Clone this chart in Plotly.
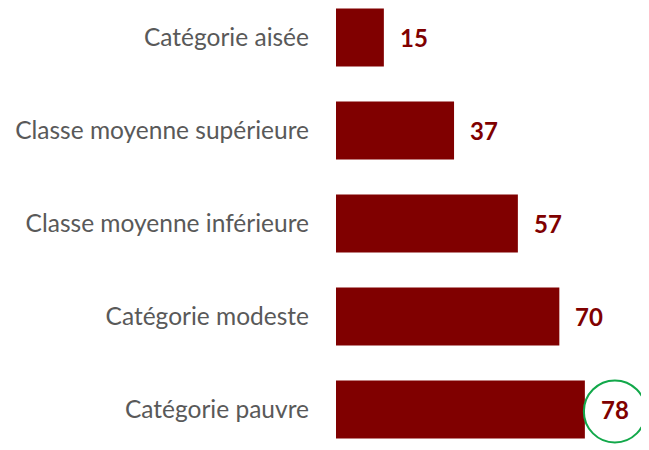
import plotly.graph_objects as go

categories = ["Catégorie aisée", "Classe moyenne supérieure", "Classe moyenne inférieure",
              "Catégorie modeste", "Catégorie pauvre"]
values = [15, 37, 57, 70, 78]
highlight_index = 4

BAR = "#800000"
fig = go.Figure(go.Bar(
    x=values, y=list(range(len(categories))), orientation="h",
    marker=dict(color=BAR, line=dict(width=0)), width=0.624,
    hoverinfo="skip",
))

for i, v in enumerate(values):
    fig.add_annotation(x=v, y=i, xref="x", yref="y", text=f"<b>{v}</b>",
                       showarrow=False, xanchor="left", xshift=14,
                       font=dict(family="Lato", size=24, color=BAR))

fig.add_shape(type="circle", xref="x", yref="y", xsizemode="pixel", ysizemode="pixel",
              xanchor=values[highlight_index], yanchor=highlight_index,
              x0=-1, x1=61, y0=-33, y1=29,
              line=dict(color="#12a84a", width=2))

# page body has an 8px margin, so the figure is 8px smaller and starts at (8, 8)
fig.update_layout(
    width=641, height=442, margin=dict(l=328, r=0, t=0, b=0),
    paper_bgcolor="white", plot_bgcolor="white", showlegend=False,
    xaxis=dict(range=[0, 98.1], visible=False),
    yaxis=dict(range=[4.436, -0.317], tickvals=list(range(len(categories))),
               ticktext=categories, showgrid=False, zeroline=False, showline=False,
               ticks="", ticklabelstandoff=26,
               tickfont=dict(family="Lato", size=24.5, color="#595959")),
)
fig.write_html("out.html")
